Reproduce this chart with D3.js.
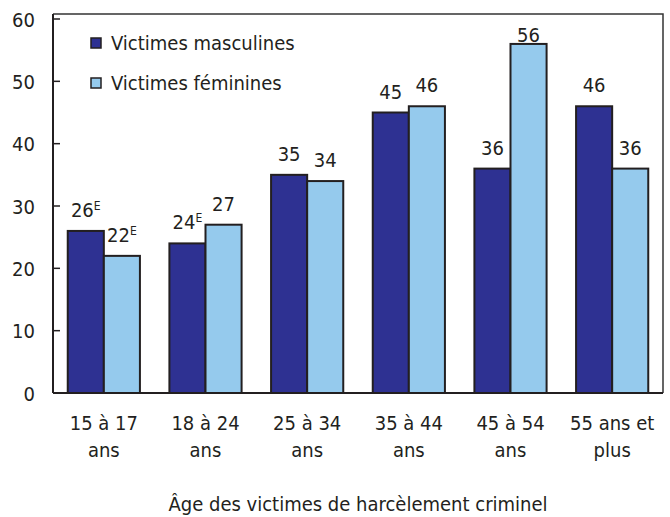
<!DOCTYPE html>
<html>
<head>
<meta charset="utf-8">
<script src="https://cdn.jsdelivr.net/npm/d3@7"></script>
<style>
  body { margin: 0; background: #fff; }
  text { font-family: "Liberation Sans Narrow", "DejaVu Sans Condensed", "Roboto", sans-serif; fill: #231f20; }
</style>
</head>
<body>
<script>
// Data
var categories = [["15 à 17", "ans"], ["18 à 24", "ans"], ["25 à 34", "ans"], ["35 à 44", "ans"], ["45 à 54", "ans"], ["55 ans et", "plus"]];
var seriesNames = ["Victimes masculines", "Victimes féminines"];
var masculines = [26, 24, 35, 45, 36, 46];
var feminines = [22, 27, 34, 46, 56, 36];
// "E" = use with caution
var flagsMasc = ["E", "E", "", "", "", ""];
var flagsFem = ["E", "", "", "", "", ""];
var yTicks = [0, 10, 20, 30, 40, 50, 60];
var colors = ["#2e3192", "#95caed"];

var svgWidth = 670, svgHeight = 517;
var margin = { top: 14, right: 7, bottom: 124, left: 53 };
var width = svgWidth - margin.left - margin.right;
var height = svgHeight - margin.top - margin.bottom;

var svg = d3.select("body").append("svg")
  .attr("width", svgWidth)
  .attr("height", svgHeight);

var chartGroup = svg.append("g")
  .attr("transform", `translate(${margin.left}, ${margin.top})`);

// Scales
var x0 = d3.scaleBand().domain(d3.range(categories.length)).range([0, width]).paddingInner(0.29).paddingOuter(0.145);
var x1 = d3.scaleBand().domain([0, 1]).range([0, x0.bandwidth()]);
var y = d3.scaleLinear().domain([0, 60]).range([height, 5]);

// frame (top + right)
chartGroup.append("path")
  .attr("d", `M0,0H${width}V${height}`)
  .attr("fill", "none")
  .attr("stroke", "#333")
  .attr("stroke-width", 1.5);

// bars
var rows = categories.map(function(c, i) {
  return [
    { s: 0, i: i, v: masculines[i], f: flagsMasc[i] },
    { s: 1, i: i, v: feminines[i], f: flagsFem[i] }
  ];
});

var groups = chartGroup.selectAll(".grp")
  .data(rows)
  .enter()
  .append("g")
  .attr("transform", (d, i) => `translate(${x0(i)},0)`);

groups.selectAll("rect")
  .data(d => d)
  .enter()
  .append("rect")
  .attr("x", d => x1(d.s))
  .attr("y", d => y(d.v))
  .attr("width", x1.bandwidth())
  .attr("height", d => height - y(d.v))
  .attr("fill", d => colors[d.s])
  .attr("stroke", "#231f20")
  .attr("stroke-width", 2);

// value labels
var labels = groups.selectAll("text.val")
  .data(d => d)
  .enter()
  .append("text")
  .attr("class", "val")
  .attr("x", d => x1(d.s) + x1.bandwidth() / 2)
  .attr("y", d => Math.max(y(d.v) - 14, y(60) + 23))
  .attr("text-anchor", "middle")
  .style("font-size", "20px");
labels.append("tspan").text(d => d.v);
labels.filter(d => d.f).append("tspan")
  .attr("dy", -7)
  .style("font-size", "12px")
  .text(d => d.f);

// axes
var leftAxis = d3.axisLeft(y).tickValues(yTicks).tickSize(0).tickPadding(18);
var yAxisG = chartGroup.append("g").call(leftAxis);
yAxisG.select(".domain").remove();
yAxisG.selectAll("text").style("font-size", "20px").attr("dy", "0.35em").attr("fill", "#231f20");

// inward tick marks
chartGroup.selectAll("line.tk")
  .data(yTicks)
  .enter()
  .append("line")
  .attr("x1", 0).attr("x2", 7)
  .attr("y1", d => y(d)).attr("y2", d => y(d))
  .attr("stroke", "#231f20")
  .attr("stroke-width", 1.5);

chartGroup.append("line")
  .attr("x1", 0).attr("x2", 0).attr("y1", 0).attr("y2", height)
  .attr("stroke", "#231f20").attr("stroke-width", 2);
chartGroup.append("line")
  .attr("x1", 0).attr("x2", width).attr("y1", height).attr("y2", height)
  .attr("stroke", "#231f20").attr("stroke-width", 2);

// category labels
var catText = chartGroup.selectAll("text.cat")
  .data(categories)
  .enter()
  .append("text")
  .attr("class", "cat")
  .attr("text-anchor", "middle")
  .style("font-size", "20px")
  .attr("transform", (d, i) => `translate(${x0(i) + x0.bandwidth() / 2}, ${height + 37})`);
catText.selectAll("tspan")
  .data(d => d)
  .enter()
  .append("tspan")
  .attr("x", 0)
  .attr("dy", (d, j) => j === 0 ? 0 : 27)
  .text(d => d);

// axis title
chartGroup.append("text")
  .attr("transform", `translate(${width / 2}, ${height + 118})`)
  .attr("text-anchor", "middle")
  .style("font-size", "20px")
  .text("Âge des victimes de harcèlement criminel");

// legend
var legend = chartGroup.selectAll(".leg")
  .data(seriesNames)
  .enter()
  .append("g")
  .attr("transform", (d, i) => `translate(38, ${24 + i * 40})`);
legend.append("rect")
  .attr("width", 10).attr("height", 10)
  .attr("fill", (d, i) => colors[i])
  .attr("stroke", "#231f20").attr("stroke-width", 1.5);
legend.append("text")
  .attr("x", 20).attr("y", 12)
  .style("font-size", "20px")
  .text(d => d);
</script>
</body>
</html>
